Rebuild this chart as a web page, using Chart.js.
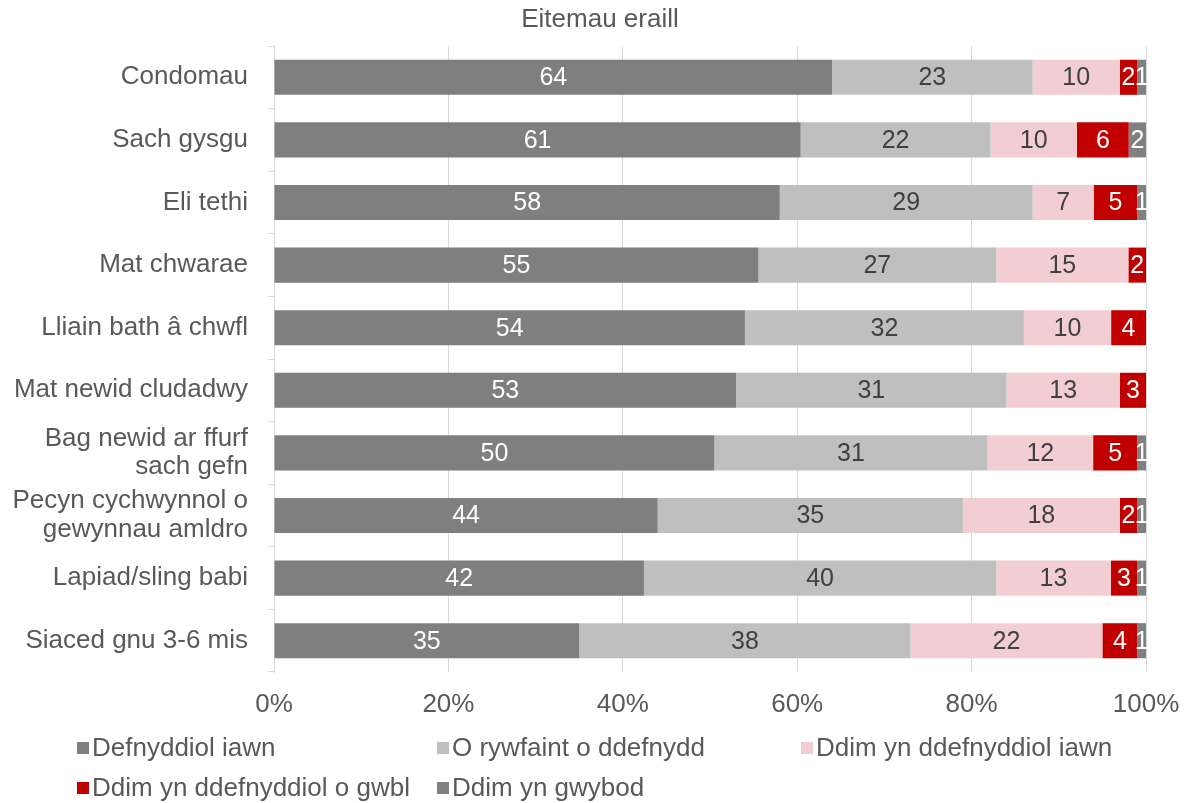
<!DOCTYPE html>
<html>
<head>
<meta charset="utf-8">
<script src="https://cdn.jsdelivr.net/npm/chart.js@4"></script>
<style>
  html, body { margin: 0; padding: 0; background: #fff; }
  #wrap { width: 1188px; height: 803px; }
</style>
</head>
<body>
<div id="wrap"><canvas id="chart" width="1188" height="803"></canvas></div>
<script>
const categories = [
  "Condomau",
  "Sach gysgu",
  "Eli tethi",
  "Mat chwarae",
  "Lliain bath â chwfl",
  "Mat newid cludadwy",
  ["Bag newid ar ffurf", "sach gefn"],
  ["Pecyn cychwynnol o", "gewynnau amldro"],
  "Lapiad/sling babi",
  "Siaced gnu 3-6 mis"
];

const defnyddiolIawn = [64, 61, 58, 55, 54, 53, 50, 44, 42, 35];
const rhywfaint = [23, 22, 29, 27, 32, 31, 31, 35, 40, 38];
const ddimIawn = [10, 10, 7, 15, 10, 13, 12, 18, 13, 22];
const ddimOGwbl = [2, 6, 5, 2, 4, 3, 5, 2, 3, 4];
const ddimGwybod = [1, 2, 1, 0, 0, 0, 1, 1, 1, 1];

const seriesNames = [
  "Defnyddiol iawn",
  "O rywfaint o ddefnydd",
  "Ddim yn ddefnyddiol iawn",
  "Ddim yn ddefnyddiol o gwbl",
  "Ddim yn gwybod"
];
const xTicks = [0, 20, 40, 60, 80, 100];
const chartTitle = "Eitemau eraill";

const allSeries = [defnyddiolIawn, rhywfaint, ddimIawn, ddimOGwbl, ddimGwybod];
const colors = ["#7f7f7f", "#bfbfbf", "#f2ced3", "#c00000", "#808080"];
const labelColors = ["#ffffff", "#404040", "#404040", "#ffffff", "#ffffff"];

// totals per row, bars are drawn as 100% stacked
const totals = categories.map((c, i) => allSeries.reduce((s, arr) => s + arr[i], 0));

const FONT = "'Liberation Sans', Arial, sans-serif";

const valueLabels = {
  id: "valueLabels",
  afterDatasetsDraw(chart) {
    const ctx = chart.ctx;
    ctx.save();
    ctx.font = "25px " + FONT;
    ctx.textAlign = "center";
    ctx.textBaseline = "middle";
    chart.data.datasets.forEach((ds, di) => {
      const meta = chart.getDatasetMeta(di);
      meta.data.forEach((el, i) => {
        const v = allSeries[di][i];
        if (!v) return;
        ctx.fillStyle = labelColors[di];
        ctx.fillText(String(v), (el.x + el.base) / 2, el.y + 1);
      });
    });
    ctx.restore();
  }
};

// title and two-row legend laid out on a fixed grid like the original
const titleAndLegend = {
  id: "titleAndLegend",
  afterDraw(chart) {
    const ctx = chart.ctx;
    ctx.save();
    ctx.fillStyle = "#595959";
    ctx.font = "26px " + FONT;
    ctx.textAlign = "center";
    ctx.textBaseline = "middle";
    ctx.fillText(chartTitle, 600, 20);

    const cols = [77, 437, 801];
    const rows = [748, 788];
    ctx.textAlign = "left";
    seriesNames.forEach((name, i) => {
      const x = cols[i % 3];
      const y = rows[Math.floor(i / 3)];
      ctx.fillStyle = colors[i];
      ctx.fillRect(x, y - 6, 12, 12);
      ctx.fillStyle = "#595959";
      ctx.fillText(name, x + 15, y + 1);
    });
    ctx.restore();
  }
};

const ctx = document.getElementById("chart").getContext("2d");
new Chart(ctx, {
  type: "bar",
  data: {
    labels: categories,
    datasets: allSeries.map((arr, di) => ({
      label: seriesNames[di],
      data: arr.map((v, i) => v / totals[i] * 100),
      backgroundColor: colors[di],
      borderWidth: 0,
      barPercentage: 0.56,
      categoryPercentage: 1.0
    }))
  },
  options: {
    indexAxis: "y",
    responsive: false,
    animation: false,
    layout: { padding: { left: 0, right: 42, top: 46, bottom: 73 } },
    plugins: {
      legend: { display: false },
      tooltip: { enabled: false },
      title: { display: false }
    },
    scales: {
      x: {
        stacked: true,
        min: 0,
        max: 100,
        afterBuildTicks: (s) => { s.ticks = xTicks.map(v => ({ value: v })); },
        afterFit: (s) => {
          s.height = 58;
          s.paddingLeft = 0;
          s.paddingRight = 0;
        },
        ticks: {
          callback: (v) => v + "%",
          color: "#595959",
          font: { family: FONT, size: 26 },
          padding: 17,
          maxRotation: 0
        },
        grid: { color: "#d9d9d9", drawTicks: false },
        border: { display: false }
      },
      y: {
        stacked: true,
        afterFit: (s) => { s.width = 274; },
        ticks: {
          color: "#595959",
          font: { family: FONT, size: 26, lineHeight: 1.1 },
          padding: 20
        },
        grid: {
          offset: true,
          drawOnChartArea: false,
          tickLength: 6,
          color: "#d9d9d9"
        },
        border: { display: true, color: "#d9d9d9" }
      }
    }
  },
  plugins: [valueLabels, titleAndLegend]
});
</script>
</body>
</html>
